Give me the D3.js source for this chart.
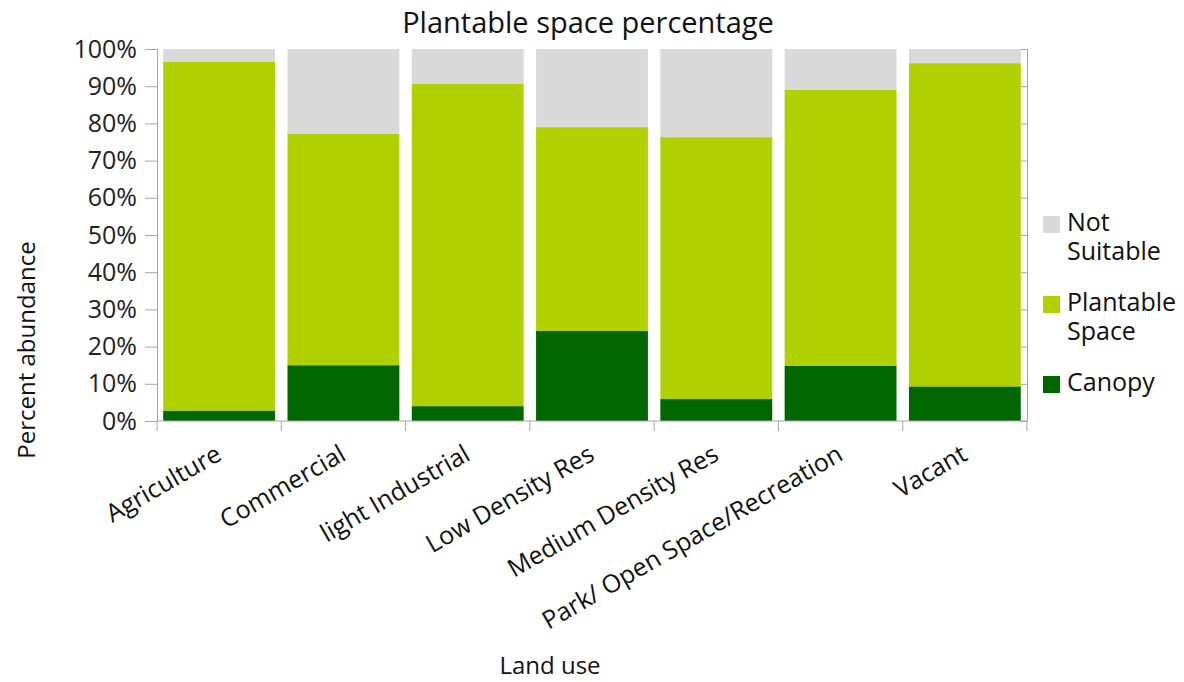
<!DOCTYPE html>
<html>
<head>
<meta charset="utf-8">
<script src="https://cdn.jsdelivr.net/npm/d3@7"></script>
<style>
  body { margin: 0; background: #fff; }
  svg { font-family: "Open Sans", Lato, sans-serif; }
</style>
</head>
<body>
<svg id="chart"></svg>
<script>
// land use categories
const categories = [
  "Agriculture",
  "Commercial",
  "light Industrial",
  "Low Density Res",
  "Medium Density Res",
  "Park/ Open Space/Recreation",
  "Vacant"
];
// percent of each category
const canopy = [2.8, 15, 4, 24.2, 5.9, 14.9, 9.3];
const plantable = [93.7, 62.2, 86.6, 54.8, 70.4, 74.1, 86.9];
const notSuitable = [3.5, 22.8, 9.4, 21, 23.7, 11, 3.8];
const yTicks = [0, 10, 20, 30, 40, 50, 60, 70, 80, 90, 100];

const width = 1184;
const height = 682;
const margin = { left: 157, right: 157, top: 49, bottom: 261 };

const svg = d3.select("#chart").attr("width", width).attr("height", height);

const rows = categories.map((c, i) => ({
  cat: c,
  canopy: canopy[i],
  plantable: plantable[i],
  notSuitable: notSuitable[i]
}));
const keys = ["canopy", "plantable", "notSuitable"];
const colors = { canopy: "#006600", plantable: "#b0d000", notSuitable: "#d9d9d9" };
const stacked = d3.stack().keys(keys)(rows);

const x = d3
  .scaleBand()
  .domain(categories)
  .range([margin.left, width - margin.right])
  .paddingInner(0.1)
  .paddingOuter(0.05);
const y = d3
  .scaleLinear()
  .domain([0, 100])
  .range([height - margin.bottom, margin.top]);

// bars
svg
  .append("g")
  .selectAll("g")
  .data(stacked)
  .join("g")
  .attr("fill", (d) => colors[d.key])
  .selectAll("rect")
  .data((d) => d)
  .join("rect")
  .attr("x", (d) => x(d.data.cat))
  .attr("width", x.bandwidth())
  .attr("y", (d) => y(d[1]))
  .attr("height", (d) => y(d[0]) - y(d[1]));

// y axis
const yAxis = svg
  .append("g")
  .attr("transform", `translate(${margin.left},0)`)
  .call(
    d3.axisLeft(y).tickValues(yTicks).tickSize(12).tickPadding(8).tickFormat((d) => d + "%")
  );
yAxis.select(".domain").attr("stroke", "#a6a6a6");
yAxis.selectAll(".tick line").attr("stroke", "#a6a6a6");
yAxis
  .selectAll("text")
  .attr("font-size", 25)
  .attr("fill", "#222")
  .attr("font-family", "'Open Sans', sans-serif");

// right axis
const rAxis = svg
  .append("g")
  .attr("transform", `translate(${width - margin.right},0)`)
  .call(d3.axisLeft(y).tickValues(yTicks).tickSize(6).tickFormat(""));
rAxis.selectAll("line, path").attr("stroke", "#a6a6a6");

// x axis line with category boundaries
const xAxisY = height - margin.bottom;
const boundaries = d3.range(categories.length + 1).map((i) =>
  i < categories.length ? x(categories[i]) - (x.step() * x.paddingInner()) / 2 : width - margin.right
);
boundaries[0] = margin.left;
svg
  .append("line")
  .attr("x1", margin.left)
  .attr("x2", width - margin.right)
  .attr("y1", xAxisY)
  .attr("y2", xAxisY)
  .attr("stroke", "#a6a6a6");
svg
  .append("g")
  .selectAll("line")
  .data(boundaries)
  .join("line")
  .attr("x1", (d) => d)
  .attr("x2", (d) => d)
  .attr("y1", xAxisY)
  .attr("y2", xAxisY + 10)
  .attr("stroke", "#a6a6a6");

// category labels
svg
  .append("g")
  .selectAll("text")
  .data(categories)
  .join("text")
  .attr(
    "transform",
    (d) => `translate(${x(d) + x.bandwidth() / 2 + 4},${xAxisY + 38}) rotate(-30)`
  )
  .attr("text-anchor", "end")
  .attr("font-size", 25)
  .attr("fill", "#111")
  .text((d) => d);

// title
svg
  .append("text")
  .attr("x", 588)
  .attr("y", 33)
  .attr("text-anchor", "middle")
  .attr("font-size", 29)
  .attr("fill", "#111")
  .text("Plantable space percentage");

// axis titles
svg
  .append("text")
  .attr("transform", "translate(35,350) rotate(-90)")
  .attr("text-anchor", "middle")
  .attr("font-size", 24)
  .attr("fill", "#111")
  .text("Percent abundance");
svg
  .append("text")
  .attr("x", 550)
  .attr("y", 674)
  .attr("text-anchor", "middle")
  .attr("font-size", 24)
  .attr("fill", "#111")
  .text("Land use");

// legend
const legendItems = [
  { key: "notSuitable", lines: ["Not", "Suitable"], y: 224 },
  { key: "plantable", lines: ["Plantable", "Space"], y: 304 },
  { key: "canopy", lines: ["Canopy"], y: 384 }
];
const legendG = svg.append("g").attr("transform", "translate(1043,0)");
const li = legendG.selectAll("g").data(legendItems).join("g");
li.append("rect")
  .attr("x", 0)
  .attr("y", (d) => d.y - 8)
  .attr("width", 17)
  .attr("height", 17)
  .attr("fill", (d) => colors[d.key]);
li.append("text")
  .attr("x", 24)
  .attr("y", (d) => d.y)
  .attr("font-size", 25)
  .attr("fill", "#111")
  .attr("dominant-baseline", "middle")
  .selectAll("tspan")
  .data((d) => d.lines)
  .join("tspan")
  .attr("x", 24)
  .attr("dy", (d, i) => (i === 0 ? 0 : 29))
  .text((d) => d);
</script>
</body>
</html>
